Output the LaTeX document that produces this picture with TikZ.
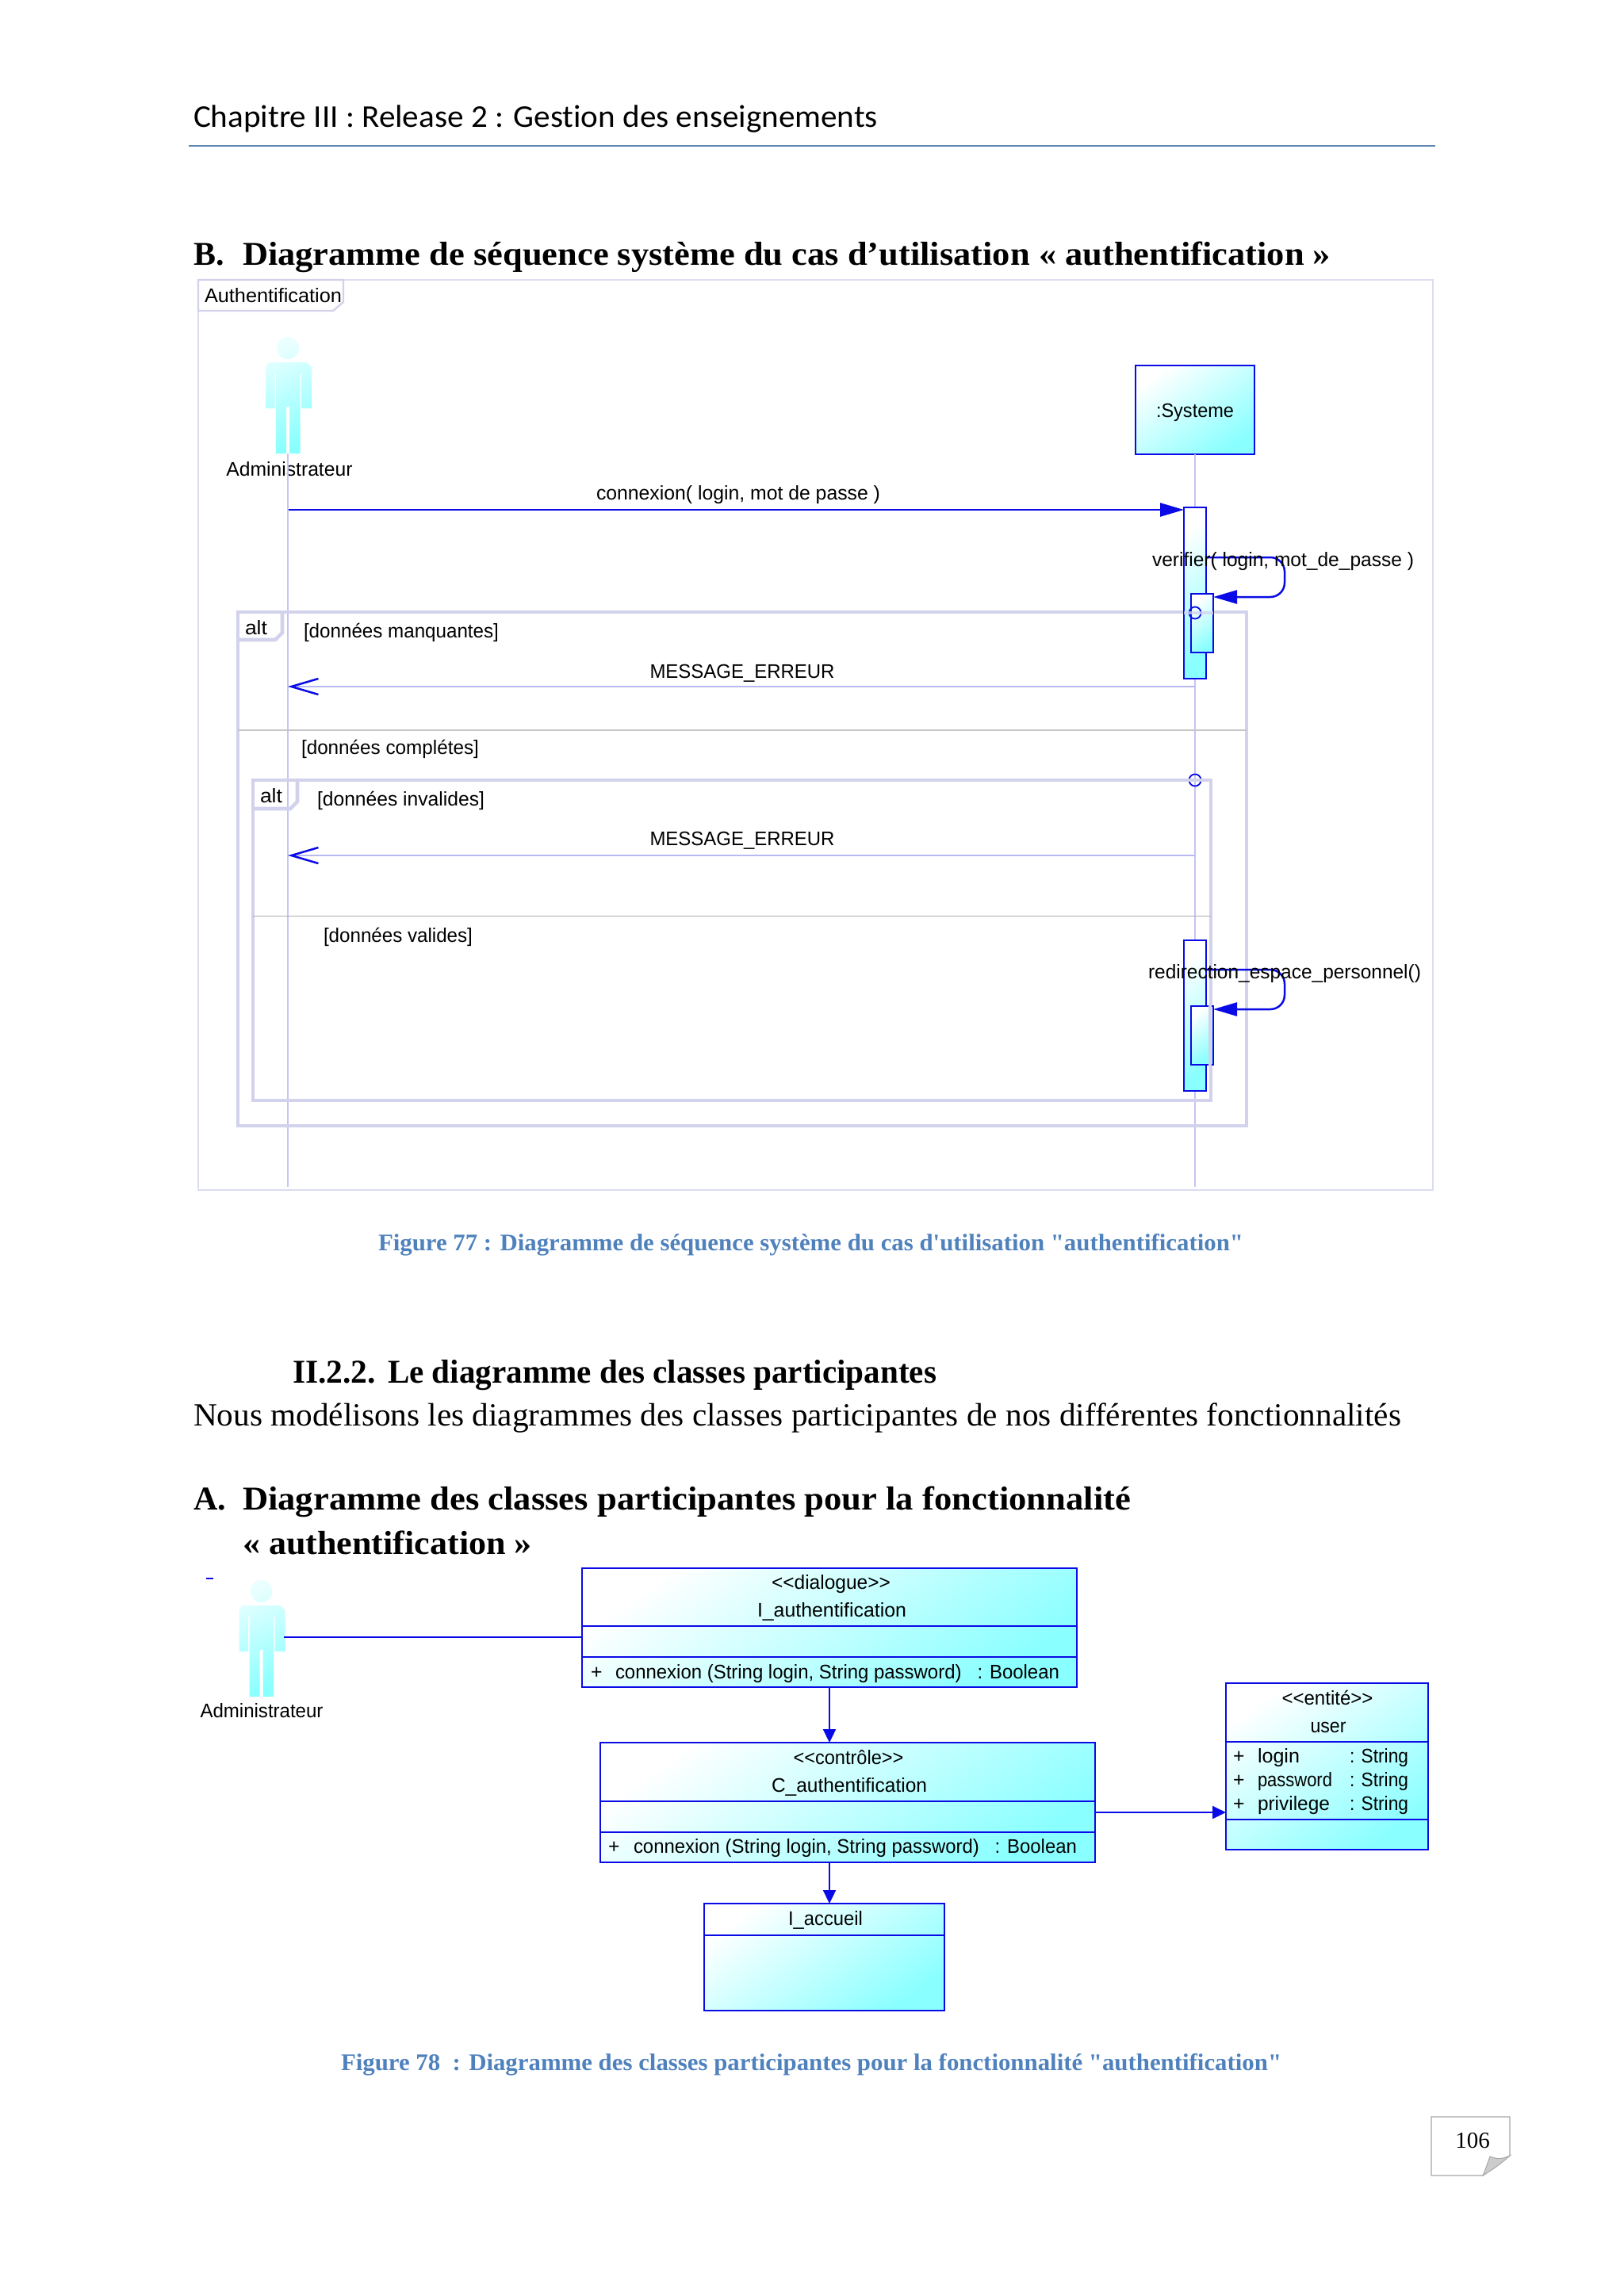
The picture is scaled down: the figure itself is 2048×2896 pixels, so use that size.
\documentclass[tikz,border=0pt]{standalone}
\usepackage{graphicx}
\usepackage{fontspec}
\setmainfont{Liberation Serif}
\newfontfamily\sansf{Liberation Sans}
\newfontfamily\capf{Liberation Serif}
\newfontfamily\calib[Ligatures=NoCommon]{Carlito}
\usetikzlibrary{arrows.meta}
\definecolor{umlblue}{HTML}{0A0AE6}
\definecolor{umlcyan}{HTML}{8AFFFF}
\definecolor{altband}{HTML}{D2D2EC}
\definecolor{frameln}{HTML}{DCDCF2}
\definecolor{lifeln}{HTML}{C4C4F6}
\definecolor{msgln}{HTML}{B8B8F2}
\definecolor{capblue}{HTML}{4F81BD}
\definecolor{rulecol}{HTML}{5F87B5}
\newcommand\fitw[2]{\pgfmathsetmacro\fw{#1*0.5}\resizebox{\fw pt}{\height}{#2}}
\newcommand\umlbox[5]{%
  \pgfmathsetmacro\bw{(#4-#2)*0.5}\pgfmathsetmacro\bh{(#5-#3)*0.5}%
  \node[gradbox,minimum width=\bw pt,minimum height=\bh pt,anchor=north west] (#1) at (#2,#3) {};}
\newcommand\plainbox[6]{%
  \pgfmathsetmacro\bw{(#4-#2)*0.5}\pgfmathsetmacro\bh{(#5-#3)*0.5}%
  \node[#6,minimum width=\bw pt,minimum height=\bh pt,anchor=north west] (#1) at (#2,#3) {};}
\newcommand\actorfig[2]{%
  \begin{scope}[shift={(#1,#2)}]
    \shade[actorshade]
      (0,-18) circle[radius=14]
      (-28,6) -- (-24,0) -- (24,0) -- (30,6) -- (30,58) -- (17,58) -- (17,14) -- (15.5,14)
      -- (15.5,115) -- (2,115) -- (2,56) -- (-2,56) -- (-2,115) -- (-15,115) -- (-15,14)
      -- (-16.5,14) -- (-16.5,58) -- (-28,58) -- cycle;
  \end{scope}}
\tikzset{
  txt/.style={inner sep=0pt,outer sep=0pt,anchor=base west,text=black},
  ctr/.style={inner sep=0pt,outer sep=0pt,anchor=base,text=black},
  seqtext/.style={font=\sansf\fontsize{12.4}{14}\selectfont},
  clstext/.style={font=\sansf\fontsize{12.4}{14}\selectfont},
  headbold/.style={font=\capf\bfseries\fontsize{21}{23}\selectfont},
  captext/.style={font=\capf\bfseries\fontsize{15}{17}\selectfont,text=capblue},
  gradbox/.style={draw=umlblue,line width=1.3pt,inner sep=0pt,outer sep=0pt,
    top color=white,bottom color=umlcyan,shading angle=35},
  actorshade/.style={top color=umlcyan!18!white,bottom color=umlcyan,shading angle=25},
  altframe/.style={draw=altband,line width=2.3pt,inner sep=0pt,outer sep=0pt},
  outerframe/.style={draw=frameln,line width=1pt,inner sep=0pt,outer sep=0pt},
  lifeline/.style={draw=lifeln,line width=.8pt},
  msgline/.style={draw=msgln,line width=.6pt,
    -{Straight Barb[length=17pt,width=10pt,color=umlblue,line width=1.25pt]}},
  callarrow/.style={draw=umlblue,line width=1.25pt,-{Triangle[length=15pt,width=8.5pt]}},
  sepline/.style={draw=umlblue,line width=1.2pt},
  assocline/.style={draw=umlblue,line width=1.1pt},
  depline/.style={draw=umlblue,line width=1.1pt,-{Triangle[length=8.5pt,width=8pt]}},
}
\begin{document}
\begin{tikzpicture}[x=.5pt,y=-.5pt]
\useasboundingbox[fill=white] (0,0) rectangle (2048,2896);

% page header
\node[txt,font=\calib\fontsize{20}{23}\selectfont] (hdr) at (244,160) {\fitw{863}{Chapitre III : Release 2 : Gestion des enseignements}};
\coordinate (ruleL) at (238,184);
\coordinate (ruleR) at (1810,184);
\draw[draw=rulecol,line width=1.2pt] (ruleL) -- (ruleR);

\node[txt,headbold] (hB) at (244,334) {B.};
\node[txt,headbold] (hBt) at (306,334) {\fitw{1372}{Diagramme de séquence système du cas d’utilisation « authentification »}};

% sequence frame
\plainbox{seqframe}{250}{353}{1807}{1501}{outerframe}
\draw[draw=altband,line width=1.2pt,fill=white] (250,353) -- (433,353) -- (433,381) -- (420,392) -- (250,392) -- cycle;
\node[txt,seqtext] (seqname) at (258,381) {\fitw{173}{Authentification}};

% actor + system
\actorfig{363}{457}
\coordinate (act1foot) at (363,572);
\coordinate (act1end) at (363,1497);
\node[ctr,seqtext] (act1lab) at (365,600) {\fitw{159}{Administrateur}};
\umlbox{sys}{1432}{461}{1582}{573}
\node[ctr,seqtext] (syslab) at (1507,526) {\fitw{98}{:Systeme}};
\coordinate (sysend) at (1507,1497);
\draw[lifeline] (act1foot) -- (act1end);
\draw[lifeline] (sys.south) -- (sysend);

% circles below the fragment bands
\coordinate (c1) at (1507,773);
\coordinate (c2) at (1507,984);

% alt fragments
\plainbox{altO}{300}{772}{1572}{1420}{altframe}
\draw[altframe] (300,807) -- (347,807) -- (356,798) -- (356,772);
\node[txt,seqtext] (altOlab) at (309,800) {\fitw{28}{alt}};
\draw[draw=umlblue,line width=.9pt] (c2) circle[radius=7.5];
\plainbox{altI}{319}{984}{1527}{1388}{altframe}
\draw[altframe] (319,1020) -- (366,1020) -- (375,1011) -- (375,984);
\node[txt,seqtext] (altIlab) at (328,1012) {\fitw{28}{alt}};
\draw[draw=gray!45,line width=.9pt] (altO.west |- 0,921) -- (altO.east |- 0,921);
\draw[draw=gray!65,line width=.5pt] (altI.west |- 0,1155) -- (altI.east |- 0,1155);

\node[txt,seqtext] (g1) at (383,804) {\fitw{246}{[données manquantes]}};
\node[txt,seqtext] (g2) at (380,951) {\fitw{224}{[données complétes]}};
\node[txt,seqtext] (g3) at (400,1016) {\fitw{211}{[données invalides]}};
\node[txt,seqtext] (g4) at (408,1188) {\fitw{188}{[données valides]}};

% activations
\umlbox{actA}{1493}{640}{1521}{856}
\umlbox{actB}{1502}{749}{1530}{823}
\umlbox{actC}{1493}{1186}{1521}{1376}
\umlbox{actD}{1502}{1269}{1530}{1343}
\draw[draw=umlblue,line width=.9pt] (c1) circle[radius=7.5];
\draw[draw=altband,line width=2.3pt,opacity=.75] (actA.west |- c1) -- (actB.east |- c1);
\coordinate (bandT) at (1526,1267);
\coordinate (bandB) at (1526,1345);
\draw[draw=altband,line width=2.2pt] (bandT) -- (bandB);

% messages
\coordinate (m1) at (364,643);
\draw[callarrow] (m1) -- (m1 -| actA.west);
\node[txt,seqtext] (m1lab) at (752,630) {\fitw{358}{connexion( login, mot de passe )}};
\coordinate (loopA) at (1521,703);
\coordinate (loopAr) at (1620,703);
\coordinate (loopBr) at (1620,753);
\coordinate (loopB) at (1530,753);
\draw[callarrow,rounded corners=9pt] (loopA) -- (loopAr) -- (loopBr) -- (loopB);
\node[txt,seqtext] (m2lab) at (1453,714) {\fitw{330}{verifier( login, mot\_de\_passe )}};
\coordinate (m3) at (1507,866);
\draw[msgline] (m3) -- (m3 -| act1foot);
\node[ctr,seqtext] (m3lab) at (936,855) {\fitw{233}{MESSAGE\_ERREUR}};
\coordinate (m4) at (1507,1079);
\draw[msgline] (m4) -- (m4 -| act1foot);
\node[ctr,seqtext] (m4lab) at (936,1066) {\fitw{233}{MESSAGE\_ERREUR}};
\coordinate (loopC) at (1521,1223);
\coordinate (loopCr) at (1620,1223);
\coordinate (loopDr) at (1620,1273);
\coordinate (loopD) at (1530,1273);
\draw[callarrow,rounded corners=9pt] (loopC) -- (loopCr) -- (loopDr) -- (loopD);
\node[txt,seqtext] (m5lab) at (1448,1234) {\fitw{344}{redirection\_espace\_personnel()}};

\node[txt,captext] (cap77) at (477,1577) {\fitw{1091}{Figure 77 : Diagramme de séquence système du cas d'utilisation "authentification"}};

% middle text
\node[txt,headbold] (h22a) at (369,1744) {\fitw{105}{II.2.2.}};
\node[txt,headbold] (h22b) at (489,1744) {\fitw{692}{Le diagramme des classes participantes}};
\node[txt,font=\capf\fontsize{20.4}{23}\selectfont] (body) at (244,1798) {\fitw{1523}{Nous modélisons les diagrammes des classes participantes de nos différentes fonctionnalités}};
\node[txt,headbold] (hA) at (244,1904) {A.};
\node[txt,headbold] (hAt) at (306,1904) {\fitw{1120}{Diagramme des classes participantes pour la fonctionnalité}};
\node[txt,headbold] (hAt2) at (306,1960) {\fitw{365}{« authentification »}};

% class diagram
\coordinate (dashL) at (260,1991);
\coordinate (dashR) at (269,1991);
\draw[draw=umlblue,line width=1.1pt] (dashL) -- (dashR);
\actorfig{329.5}{2025}
\coordinate (hand) at (358,2065);
\node[ctr,clstext] (act2lab) at (330,2166) {\fitw{155}{Administrateur}};

\umlbox{iauth}{734}{1978}{1358}{2128}
\coordinate (i1) at (734,2051);
\coordinate (i2) at (734,2090);
\draw[sepline] (i1) -- (i1 -| iauth.east);
\draw[sepline] (i2) -- (i2 -| iauth.east);
\node[ctr,clstext] (ia) at (1048,2004) {\fitw{150}{<<dialogue>>}};
\node[ctr,clstext] (ib) at (1049,2039) {\fitw{188}{I\_authentification}};
\node[txt,clstext] (ic) at (745,2117) {+};
\node[txt,clstext] (id) at (776,2117) {\fitw{560}{connexion (String login, String password)\ \ \ : Boolean}};

\umlbox{cauth}{757}{2198}{1381}{2349}
\coordinate (c3) at (757,2272);
\coordinate (c4) at (757,2311);
\draw[sepline] (c3) -- (c3 -| cauth.east);
\draw[sepline] (c4) -- (c4 -| cauth.east);
\node[ctr,clstext] (ca) at (1070,2225) {\fitw{139}{<<contrôle>>}};
\node[ctr,clstext] (cb) at (1071,2260) {\fitw{196}{C\_authentification}};
\node[txt,clstext] (cc) at (767,2337) {+};
\node[txt,clstext] (cd) at (799,2337) {\fitw{559}{connexion (String login, String password)\ \ \ : Boolean}};

\umlbox{accueil}{888}{2401}{1191}{2536}
\coordinate (a3) at (888,2441);
\draw[sepline] (a3) -- (a3 -| accueil.east);
\node[ctr,clstext] (aa) at (1041,2428) {\fitw{94}{I\_accueil}};

\umlbox{user}{1546}{2123}{1801}{2333}
\coordinate (u1) at (1546,2197);
\coordinate (u2) at (1546,2295);
\draw[sepline] (u1) -- (u1 -| user.east);
\draw[sepline] (u2) -- (u2 -| user.east);
\node[ctr,clstext] (ua) at (1674,2150) {\fitw{115}{<<entité>>}};
\node[ctr,clstext] (ub) at (1675,2185) {\fitw{45}{user}};
\node[txt,clstext] (up1) at (1555,2223) {+};
\node[txt,clstext] (un1) at (1586,2223) {\fitw{53}{login}};
\node[txt,clstext] (ut1) at (1702,2223) {\fitw{74}{: String}};
\node[txt,clstext] (up2) at (1555,2253) {+};
\node[txt,clstext] (un2) at (1586,2253) {\fitw{94}{password}};
\node[txt,clstext] (ut2) at (1702,2253) {\fitw{74}{: String}};
\node[txt,clstext] (up3) at (1555,2283) {+};
\node[txt,clstext] (un3) at (1586,2283) {\fitw{91}{privilege}};
\node[txt,clstext] (ut3) at (1702,2283) {\fitw{74}{: String}};

\draw[assocline] (hand) -- (hand -| iauth.west);
\draw[depline] (iauth.south) -- (iauth.south |- cauth.north);
\draw[depline] (cauth.south -| iauth.south) -- (accueil.north -| iauth.south);
\coordinate (cu) at (1381,2286);
\draw[depline] (cu) -- (cu -| user.west);

\node[txt,captext] (cap78) at (430,2611) {\fitw{1186}{Figure 78\ \ : Diagramme des classes participantes pour la fonctionnalité "authentification"}};

% page number tag
\draw[draw=gray!70,line width=.6pt,fill=white] (1805,2670) -- (1904,2670) -- (1904,2719) -- (1870,2744) -- (1805,2744) -- cycle;
\draw[draw=gray!70,line width=.5pt,fill=gray!40] (1870,2744) .. controls (1874,2735) and (1876,2728) .. (1879,2720) .. controls (1888,2724) and (1896,2723) .. (1904,2719) .. controls (1892,2730) and (1880,2738) .. (1870,2744) -- cycle;
\node[ctr,font=\capf\fontsize{14.5}{17}\selectfont] (pagenum) at (1857,2709) {106};
\end{tikzpicture}
\end{document}
